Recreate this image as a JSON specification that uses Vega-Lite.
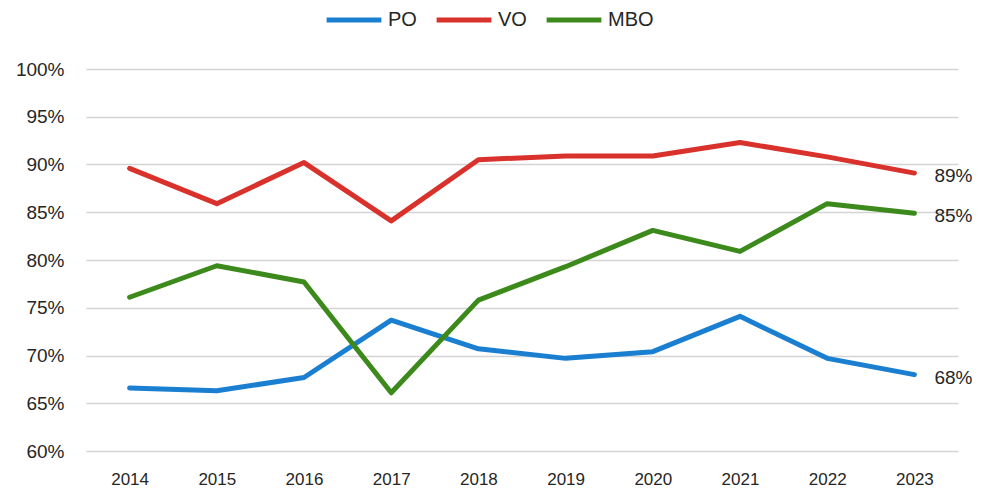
{
  "$schema": "https://vega.github.io/schema/vega-lite/v6.json",
  "width": 872,
  "height": 382,
  "autosize": "none",
  "padding": {"left": 86, "top": 69, "right": 26, "bottom": 41},
  "background": "white",
  "config": {"view": {"stroke": null}, "font": "Liberation Sans"},
  "data": {"values": [
    {"year": "2014", "series": "PO", "value": 0.666},
    {"year": "2015", "series": "PO", "value": 0.663},
    {"year": "2016", "series": "PO", "value": 0.677},
    {"year": "2017", "series": "PO", "value": 0.737},
    {"year": "2018", "series": "PO", "value": 0.707},
    {"year": "2019", "series": "PO", "value": 0.697},
    {"year": "2020", "series": "PO", "value": 0.704},
    {"year": "2021", "series": "PO", "value": 0.741},
    {"year": "2022", "series": "PO", "value": 0.697},
    {"year": "2023", "series": "PO", "value": 0.680},
    {"year": "2014", "series": "VO", "value": 0.896},
    {"year": "2015", "series": "VO", "value": 0.859},
    {"year": "2016", "series": "VO", "value": 0.902},
    {"year": "2017", "series": "VO", "value": 0.841},
    {"year": "2018", "series": "VO", "value": 0.905},
    {"year": "2019", "series": "VO", "value": 0.909},
    {"year": "2020", "series": "VO", "value": 0.909},
    {"year": "2021", "series": "VO", "value": 0.923},
    {"year": "2022", "series": "VO", "value": 0.908},
    {"year": "2023", "series": "VO", "value": 0.891},
    {"year": "2014", "series": "MBO", "value": 0.761},
    {"year": "2015", "series": "MBO", "value": 0.794},
    {"year": "2016", "series": "MBO", "value": 0.777},
    {"year": "2017", "series": "MBO", "value": 0.661},
    {"year": "2018", "series": "MBO", "value": 0.758},
    {"year": "2019", "series": "MBO", "value": 0.793},
    {"year": "2020", "series": "MBO", "value": 0.831},
    {"year": "2021", "series": "MBO", "value": 0.809},
    {"year": "2022", "series": "MBO", "value": 0.859},
    {"year": "2023", "series": "MBO", "value": 0.849}
  ]},
  "encoding": {
    "x": {"field": "year", "type": "ordinal", "scale": {"type": "point", "padding": 0.5},
      "axis": {"title": null, "labelAngle": 0, "labelFontSize": 17, "labelColor": "#262626", "labelPadding": 20, "domain": false, "ticks": false, "grid": false}},
    "y": {"field": "value", "type": "quantitative", "scale": {"domain": [0.6, 1.0], "nice": false, "zero": false},
      "axis": {"title": null, "format": ".0%", "values": [0.6,0.65,0.7,0.75,0.8,0.85,0.9,0.95,1.0], "labelFontSize": 19, "labelColor": "#262626", "labelPadding": 22, "domain": false, "ticks": false, "gridColor": "#d4d4d4", "gridWidth": 1.3}},
    "color": {"field": "series", "type": "nominal",
      "scale": {"domain": ["PO", "VO", "MBO"], "range": ["#1a7fd0", "#d9312b", "#3d8a1c"]},
      "legend": {"title": null, "orient": "none", "direction": "horizontal", "legendX": 238, "legendY": -79,
        "symbolType": "stroke", "symbolSize": 3000, "symbolStrokeWidth": 5, "labelFontSize": 20, "labelColor": "#262626", "columnPadding": 9, "labelOffset": 4}}
  },
  "layer": [
    {"mark": {"type": "line", "strokeWidth": 5, "strokeCap": "round", "strokeJoin": "round"}},
    {"transform": [{"filter": "datum.year == '2023'"}],
      "mark": {"type": "text", "align": "left", "dx": 20, "dy": 3, "fontSize": 19, "color": "#262626"},
      "encoding": {"text": {"field": "value", "type": "quantitative", "format": ".0%"}, "color": {"value": "#262626"}}}
  ]
}
